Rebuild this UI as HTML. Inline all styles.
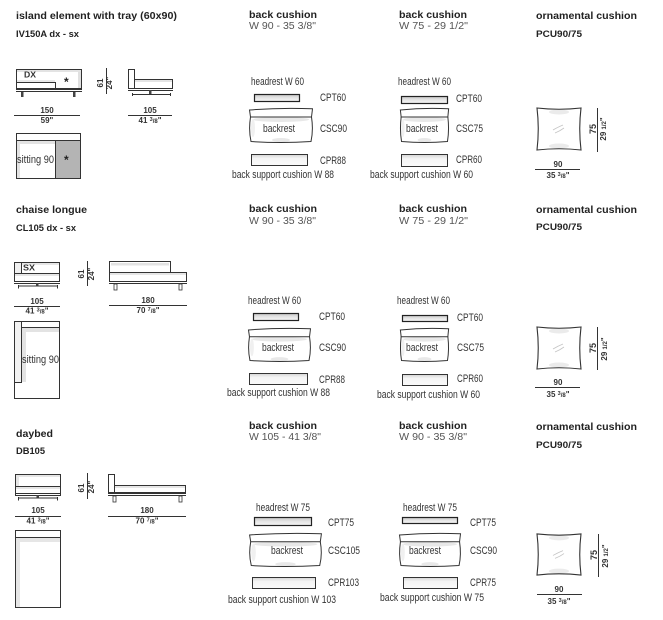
<!DOCTYPE html>
<html><head><meta charset="utf-8"><style>
html,body{margin:0;padding:0;background:#fff;}
svg{display:block;}
text{font-family:"Liberation Sans",Arial,sans-serif;}
.t{font-weight:bold;font-size:10px;fill:#222;}
.s{font-size:10px;fill:#555;}
.l{font-size:11px;fill:#333;}
.d{font-weight:bold;font-size:8px;fill:#333;}
.k{stroke:#333;fill:none;stroke-width:1;}
</style></head><body>
<svg width="663" height="620" viewBox="0 0 663 620" xmlns="http://www.w3.org/2000/svg">
<defs>
<linearGradient id="g1" x1="0" y1="0" x2="0" y2="1"><stop offset="0" stop-color="#c8c8c8"/><stop offset="0.5" stop-color="#e6e6e6"/><stop offset="1" stop-color="#f6f6f6"/></linearGradient>
<linearGradient id="g2" x1="0" y1="0" x2="0" y2="1"><stop offset="0" stop-color="#d4d4d4"/><stop offset="0.35" stop-color="#f4f4f4"/><stop offset="1" stop-color="#fafafa"/></linearGradient>
<symbol id="bk" viewBox="0 0 64 35" preserveAspectRatio="none" style="overflow:visible">
<path d="M1.5 9 Q-0.5 22 2 33.5 Q32 35.5 62 33.5 Q64.5 22 62.5 9 Z" fill="#fff"/>
<ellipse cx="32" cy="11.5" rx="28" ry="2.5" fill="#e8e8e8"/>
<ellipse cx="32" cy="32" rx="9" ry="2" fill="#e8e8e8"/>
<ellipse cx="4" cy="20" rx="2" ry="9" fill="#f0f0f0"/>
<path d="M1.5 9 Q-0.5 22 2 33.5 Q32 35.5 62 33.5 Q64.5 22 62.5 9" fill="none" stroke="#333" vector-effect="non-scaling-stroke"/>
<path d="M0.5 2 Q32 -0.5 63.5 0.8 L62.5 9 L1.5 9 Z" fill="#fff" stroke="#333" vector-effect="non-scaling-stroke"/>
</symbol>
<symbol id="pc" viewBox="0 0 46 44" preserveAspectRatio="none" style="overflow:visible">
<path d="M1 1 Q23 3.5 45 1 Q42.5 22 45 43 Q23 40.5 1 43 Q3.5 22 1 1 Z" fill="#fff"/>
<ellipse cx="23" cy="5" rx="10" ry="2.5" fill="#ebebeb"/>
<ellipse cx="23" cy="39" rx="10" ry="2.5" fill="#ebebeb"/>
<path d="M17 23 Q22 20 27 18 M19 26 Q24 24 28 21" fill="none" stroke="#c4c4c4" stroke-width="0.8"/>
<path d="M1 1 Q23 3.5 45 1 Q42.5 22 45 43 Q23 40.5 1 43 Q3.5 22 1 1 Z" fill="none" stroke="#333" stroke-width="1.1" vector-effect="non-scaling-stroke"/>
</symbol>
</defs>

<!-- ================= ROW 1 ================= -->
<text class="t" x="16" y="19" textLength="161" lengthAdjust="spacingAndGlyphs">island element with tray (60x90)</text>
<text class="t" x="16" y="37" textLength="63" lengthAdjust="spacingAndGlyphs" style="font-size:9px">IV150A dx - sx</text>

<!-- island front -->
<rect x="16.5" y="69.5" width="65" height="19" fill="#fff" stroke="#333"/>
<rect x="17" y="70" width="64" height="2" fill="#e3e3e3"/>
<rect x="78" y="72" width="3" height="16" fill="#e0e0e0"/>
<rect x="17" y="80" width="38" height="2" fill="#e8e8e8"/>
<path class="k" d="M16.5 82.5 H55.5 V88.5"/>
<path class="k" d="M16 89.5 H82 M16 91.5 H82"/>
<rect x="21" y="92" width="2.5" height="5" fill="#444"/>
<rect x="73" y="92" width="2.5" height="5" fill="#444"/>
<text x="24" y="77.5" style="font-weight:bold;font-size:8px;fill:#333" textLength="12" lengthAdjust="spacingAndGlyphs">DX</text>
<text x="64" y="86" style="font-weight:bold;font-size:12px;fill:#222">*</text>

<!-- height dim row1 -->
<path class="k" d="M106.5 68 V94"/>
<text class="d" transform="translate(103,83) rotate(-90)" text-anchor="middle">61</text>
<text class="d" transform="translate(112,83) rotate(-90)" text-anchor="middle">24"</text>

<!-- island side -->
<rect x="128.5" y="69.5" width="6" height="19" fill="#fff" stroke="#333"/>
<rect x="134.5" y="79.5" width="38" height="9" fill="#fff" stroke="#333"/>
<rect x="135" y="80" width="37" height="2" fill="#e3e3e3"/>
<path class="k" d="M128 88.5 H173 M128 90.5 H173"/>
<rect x="149" y="90" width="2.5" height="4" fill="#444"/>
<path class="k" d="M132 94.5 H171" stroke-width="1.3"/>
<path class="k" d="M132.5 93 V96 M170.5 93 V96"/>

<!-- dims row1 -->
<text class="d" x="47" y="113" text-anchor="middle">150</text>
<path class="k" d="M14 115.5 H80"/>
<text class="d" x="47" y="123" text-anchor="middle">59"</text>
<text class="d" x="150" y="113" text-anchor="middle">105</text>
<path class="k" d="M128 115.5 H172"/>
<text class="d" x="150" y="123" text-anchor="middle">41 <tspan style="font-size:5.5px" dy="-2">3</tspan><tspan style="font-size:6px" dy="2">/8</tspan>"</text>

<!-- island plan -->
<rect x="16.5" y="133.5" width="64" height="45" fill="#fff" stroke="#333"/>
<rect x="17" y="141" width="3" height="37" fill="#e3e3e3"/>
<rect x="17" y="141" width="38" height="3" fill="#e3e3e3"/>
<path class="k" d="M16.5 140.5 H80.5"/>
<rect x="55.5" y="140.5" width="25" height="38" fill="#b4b4b4" stroke="#333"/>
<text class="l" x="17" y="163" textLength="37" lengthAdjust="spacingAndGlyphs">sitting 90</text>
<text x="64" y="164" style="font-weight:bold;font-size:12px;fill:#222">*</text>

<!-- back cushion col1 row1 -->
<text class="t" x="249" y="18" textLength="68" lengthAdjust="spacingAndGlyphs">back cushion</text>
<text class="s" x="249" y="29" textLength="67" lengthAdjust="spacingAndGlyphs">W 90 - 35 3/8"</text>
<text class="l" x="251" y="85" textLength="53" lengthAdjust="spacingAndGlyphs">headrest W 60</text>
<rect x="254.5" y="94.5" width="45" height="7" fill="url(#g1)" stroke="#222" stroke-width="1.2"/>
<text class="l" x="320" y="101" textLength="26" lengthAdjust="spacingAndGlyphs">CPT60</text>
<use href="#bk" x="249" y="108" width="64" height="35"/>
<text class="l" x="263" y="132" textLength="32" lengthAdjust="spacingAndGlyphs">backrest</text>
<text class="l" x="320" y="132" textLength="27" lengthAdjust="spacingAndGlyphs">CSC90</text>
<rect x="251.5" y="154.5" width="56" height="11" fill="url(#g2)" stroke="#333"/>
<text class="l" x="320" y="164" textLength="26" lengthAdjust="spacingAndGlyphs">CPR88</text>
<text class="l" x="232" y="178" textLength="102" lengthAdjust="spacingAndGlyphs">back support cushion W 88</text>

<!-- back cushion col2 row1 -->
<text class="t" x="399" y="18" textLength="68" lengthAdjust="spacingAndGlyphs">back cushion</text>
<text class="s" x="399" y="29" textLength="69" lengthAdjust="spacingAndGlyphs">W 75 - 29 1/2"</text>
<text class="l" x="398" y="85" textLength="53" lengthAdjust="spacingAndGlyphs">headrest W 60</text>
<rect x="401.5" y="96.5" width="46" height="7" fill="url(#g1)" stroke="#222" stroke-width="1.2"/>
<text class="l" x="456" y="102" textLength="26" lengthAdjust="spacingAndGlyphs">CPT60</text>
<use href="#bk" x="400" y="108" width="49" height="35"/>
<text class="l" x="406" y="132" textLength="32" lengthAdjust="spacingAndGlyphs">backrest</text>
<text class="l" x="456" y="132" textLength="27" lengthAdjust="spacingAndGlyphs">CSC75</text>
<rect x="401.5" y="154.5" width="46" height="12" fill="url(#g2)" stroke="#333"/>
<text class="l" x="456" y="163" textLength="26" lengthAdjust="spacingAndGlyphs">CPR60</text>
<text class="l" x="370" y="178" textLength="103" lengthAdjust="spacingAndGlyphs">back support cushion W 60</text>

<!-- ornamental row1 -->
<text class="t" x="536" y="19" textLength="101" lengthAdjust="spacingAndGlyphs">ornamental cushion</text>
<text class="t" x="536" y="37" textLength="46" lengthAdjust="spacingAndGlyphs" style="font-size:9px">PCU90/75</text>
<use href="#pc" x="536" y="107" width="46" height="44"/>
<path class="k" d="M597.5 108 V152"/>
<text class="d" transform="translate(596,129) rotate(-90)" text-anchor="middle" style="font-size:9px">75</text>
<text class="d" transform="translate(606,129) rotate(-90)" text-anchor="middle">29 <tspan style="font-size:6px">1/2</tspan>"</text>
<text class="d" x="558" y="167" text-anchor="middle">90</text>
<path class="k" d="M535 169.5 H580"/>
<text class="d" x="558" y="178" text-anchor="middle">35 <tspan style="font-size:5.5px" dy="-2">3</tspan><tspan style="font-size:6px" dy="2">/8</tspan>"</text>

<!-- ================= ROW 2 ================= -->
<text class="t" x="16" y="213" textLength="71" lengthAdjust="spacingAndGlyphs">chaise longue</text>
<text class="t" x="16" y="231" textLength="60" lengthAdjust="spacingAndGlyphs" style="font-size:9px">CL105 dx - sx</text>

<!-- chaise front -->
<rect x="14.5" y="262.5" width="45" height="19" fill="#fff" stroke="#333"/>
<rect x="22" y="263" width="37" height="2" fill="#e6e6e6"/>
<rect x="15" y="274" width="44" height="2" fill="#e6e6e6"/>
<rect x="14.5" y="262.5" width="7" height="11" fill="#f0f0f0" stroke="#333"/>
<path class="k" d="M14.5 273.5 H59.5 M14 281.5 H60 M14 283.5 H60"/>
<rect x="36" y="283" width="2.5" height="3" fill="#444"/>
<path class="k" d="M18 286 H58" stroke-width="1.3"/>
<path class="k" d="M18.5 285 V288.5 M57.5 285 V288.5"/>
<text x="23" y="270.5" style="font-weight:bold;font-size:8px;fill:#333" textLength="12" lengthAdjust="spacingAndGlyphs">SX</text>

<path class="k" d="M87.5 261 V286"/>
<text class="d" transform="translate(84,274) rotate(-90)" text-anchor="middle">61</text>
<text class="d" transform="translate(94,274) rotate(-90)" text-anchor="middle">24"</text>

<!-- chaise side -->
<path d="M109.5 261.5 H170.5 V272.5 H109.5 Z" fill="#fff" stroke="#333"/>
<rect x="111" y="263" width="58" height="2.5" fill="#e3e3e3"/>
<rect x="109.5" y="272.5" width="77" height="9" fill="#fff" stroke="#333"/>
<rect x="110" y="273" width="76" height="2" fill="#e6e6e6"/>
<path class="k" d="M109 283.5 H187"/>
<rect x="114" y="284" width="3" height="6" fill="#fff" stroke="#333" stroke-width="0.8"/>
<rect x="179" y="284" width="3" height="6" fill="#fff" stroke="#333" stroke-width="0.8"/>

<text class="d" x="37" y="304" text-anchor="middle">105</text>
<path class="k" d="M14 306.5 H60"/>
<text class="d" x="37" y="313.5" text-anchor="middle">41 <tspan style="font-size:5.5px" dy="-2">3</tspan><tspan style="font-size:6px" dy="2">/8</tspan>"</text>
<text class="d" x="148" y="303" text-anchor="middle">180</text>
<path class="k" d="M109 305.5 H187"/>
<text class="d" x="148" y="313" text-anchor="middle">70 <tspan style="font-size:5.5px" dy="-2">7</tspan><tspan style="font-size:6px" dy="2">/8</tspan>"</text>

<!-- chaise plan -->
<rect x="14.5" y="321.5" width="45" height="77" fill="#fff" stroke="#333"/>
<rect x="22" y="328" width="4" height="54" fill="#e3e3e3"/>
<rect x="22" y="328" width="37" height="4" fill="#e3e3e3"/>
<rect x="14.5" y="321.5" width="7" height="61" fill="#f2f2f2" stroke="#333"/>
<path class="k" d="M21.5 327.5 H59.5"/>
<text class="l" x="22" y="363" textLength="37" lengthAdjust="spacingAndGlyphs">sitting 90</text>

<!-- back cushion col1 row2 -->
<text class="t" x="249" y="212" textLength="68" lengthAdjust="spacingAndGlyphs">back cushion</text>
<text class="s" x="249" y="224" textLength="67" lengthAdjust="spacingAndGlyphs">W 90 - 35 3/8"</text>
<text class="l" x="248" y="304" textLength="53" lengthAdjust="spacingAndGlyphs">headrest W 60</text>
<rect x="253.5" y="313.5" width="45" height="7" fill="url(#g1)" stroke="#222" stroke-width="1.2"/>
<text class="l" x="319" y="320" textLength="26" lengthAdjust="spacingAndGlyphs">CPT60</text>
<use href="#bk" x="248" y="328" width="63" height="34"/>
<text class="l" x="262" y="351" textLength="32" lengthAdjust="spacingAndGlyphs">backrest</text>
<text class="l" x="319" y="351" textLength="27" lengthAdjust="spacingAndGlyphs">CSC90</text>
<rect x="249.5" y="373.5" width="58" height="11" fill="url(#g2)" stroke="#333"/>
<text class="l" x="319" y="383" textLength="26" lengthAdjust="spacingAndGlyphs">CPR88</text>
<text class="l" x="227" y="396" textLength="103" lengthAdjust="spacingAndGlyphs">back support cushion W 88</text>

<!-- back cushion col2 row2 -->
<text class="t" x="399" y="212" textLength="68" lengthAdjust="spacingAndGlyphs">back cushion</text>
<text class="s" x="399" y="224" textLength="69" lengthAdjust="spacingAndGlyphs">W 75 - 29 1/2"</text>
<text class="l" x="397" y="304" textLength="53" lengthAdjust="spacingAndGlyphs">headrest W 60</text>
<rect x="402.5" y="315.5" width="45" height="6" fill="url(#g1)" stroke="#222" stroke-width="1.2"/>
<text class="l" x="457" y="321" textLength="26" lengthAdjust="spacingAndGlyphs">CPT60</text>
<use href="#bk" x="400" y="328" width="49" height="34"/>
<text class="l" x="406" y="351" textLength="32" lengthAdjust="spacingAndGlyphs">backrest</text>
<text class="l" x="457" y="351" textLength="27" lengthAdjust="spacingAndGlyphs">CSC75</text>
<rect x="402.5" y="374.5" width="45" height="11" fill="url(#g2)" stroke="#333"/>
<text class="l" x="457" y="382" textLength="26" lengthAdjust="spacingAndGlyphs">CPR60</text>
<text class="l" x="377" y="398" textLength="103" lengthAdjust="spacingAndGlyphs">back support cushion W 60</text>

<!-- ornamental row2 -->
<text class="t" x="536" y="213" textLength="101" lengthAdjust="spacingAndGlyphs">ornamental cushion</text>
<text class="t" x="536" y="230" textLength="46" lengthAdjust="spacingAndGlyphs" style="font-size:9px">PCU90/75</text>
<use href="#pc" x="536" y="326" width="46" height="44"/>
<path class="k" d="M597.5 327 V370"/>
<text class="d" transform="translate(596,348) rotate(-90)" text-anchor="middle" style="font-size:9px">75</text>
<text class="d" transform="translate(607,349) rotate(-90)" text-anchor="middle">29 <tspan style="font-size:6px">1/2</tspan>"</text>
<text class="d" x="558" y="385" text-anchor="middle">90</text>
<path class="k" d="M535 387.5 H580"/>
<text class="d" x="558" y="397" text-anchor="middle">35 <tspan style="font-size:5.5px" dy="-2">3</tspan><tspan style="font-size:6px" dy="2">/8</tspan>"</text>

<!-- ================= ROW 3 ================= -->
<text class="t" x="16" y="437" textLength="37" lengthAdjust="spacingAndGlyphs">daybed</text>
<text class="t" x="16" y="454" textLength="29" lengthAdjust="spacingAndGlyphs" style="font-size:9px">DB105</text>

<!-- daybed front -->
<rect x="15.5" y="474.5" width="45" height="21" fill="#fff" stroke="#333"/>
<rect x="16" y="475" width="44" height="2" fill="#e6e6e6"/>
<rect x="16" y="475" width="3" height="11" fill="#e6e6e6"/>
<rect x="16" y="487" width="44" height="2" fill="#e6e6e6"/>
<path class="k" d="M15.5 486.5 H60.5 M15.5 493.5 H60.5"/>
<rect x="36.5" y="495" width="2.5" height="3" fill="#444"/>
<path class="k" d="M18 498 H58" stroke-width="1.3"/>
<path class="k" d="M18.5 497 V500.5 M57.5 497 V500.5"/>

<path class="k" d="M87.5 473 V499"/>
<text class="d" transform="translate(84,488) rotate(-90)" text-anchor="middle">61</text>
<text class="d" transform="translate(94,487) rotate(-90)" text-anchor="middle">24"</text>

<!-- daybed side -->
<rect x="108.5" y="474.5" width="6" height="18" fill="#fff" stroke="#333"/>
<rect x="114.5" y="485.5" width="71" height="7" fill="#fff" stroke="#333"/>
<rect x="115" y="486" width="70" height="2" fill="#e6e6e6"/>
<path class="k" d="M108 493.5 H186 M108 495.5 H186"/>
<rect x="113" y="496" width="3" height="6" fill="#fff" stroke="#333" stroke-width="0.8"/>
<rect x="179" y="496" width="3" height="6" fill="#fff" stroke="#333" stroke-width="0.8"/>

<text class="d" x="38" y="513" text-anchor="middle">105</text>
<path class="k" d="M15 516.5 H61"/>
<text class="d" x="38" y="523.5" text-anchor="middle">41 <tspan style="font-size:5.5px" dy="-2">3</tspan><tspan style="font-size:6px" dy="2">/8</tspan>"</text>
<text class="d" x="147" y="513" text-anchor="middle">180</text>
<path class="k" d="M108 516.5 H186"/>
<text class="d" x="147" y="523.5" text-anchor="middle">70 <tspan style="font-size:5.5px" dy="-2">7</tspan><tspan style="font-size:6px" dy="2">/8</tspan>"</text>

<!-- daybed plan -->
<rect x="15.5" y="530.5" width="45" height="77" fill="#fff" stroke="#333"/>
<rect x="16" y="538" width="4" height="69" fill="#e6e6e6"/>
<rect x="16" y="538" width="44" height="4" fill="#e6e6e6"/>
<path class="k" d="M15.5 537.5 H60.5"/>

<!-- back cushion col1 row3 -->
<text class="t" x="249" y="429" textLength="68" lengthAdjust="spacingAndGlyphs">back cushion</text>
<text class="s" x="249" y="440" textLength="72" lengthAdjust="spacingAndGlyphs">W 105 - 41 3/8"</text>
<text class="l" x="256" y="511" textLength="54" lengthAdjust="spacingAndGlyphs">headrest W 75</text>
<rect x="254.5" y="517.5" width="57" height="8" fill="url(#g1)" stroke="#222" stroke-width="1.2"/>
<text class="l" x="328" y="526" textLength="26" lengthAdjust="spacingAndGlyphs">CPT75</text>
<use href="#bk" x="249" y="533" width="73" height="34"/>
<text class="l" x="271" y="554" textLength="32" lengthAdjust="spacingAndGlyphs">backrest</text>
<text class="l" x="328" y="554" textLength="32" lengthAdjust="spacingAndGlyphs">CSC105</text>
<rect x="252.5" y="577.5" width="63" height="11" fill="url(#g2)" stroke="#333"/>
<text class="l" x="328" y="586" textLength="31" lengthAdjust="spacingAndGlyphs">CPR103</text>
<text class="l" x="228" y="603" textLength="108" lengthAdjust="spacingAndGlyphs">back support cushion W 103</text>

<!-- back cushion col2 row3 -->
<text class="t" x="399" y="429" textLength="68" lengthAdjust="spacingAndGlyphs">back cushion</text>
<text class="s" x="399" y="440" textLength="68" lengthAdjust="spacingAndGlyphs">W 90 - 35 3/8"</text>
<text class="l" x="403" y="511" textLength="54" lengthAdjust="spacingAndGlyphs">headrest W 75</text>
<rect x="402.5" y="517.5" width="55" height="6" fill="url(#g1)" stroke="#222" stroke-width="1.2"/>
<text class="l" x="470" y="526" textLength="26" lengthAdjust="spacingAndGlyphs">CPT75</text>
<use href="#bk" x="399" y="533" width="62" height="34"/>
<text class="l" x="409" y="554" textLength="32" lengthAdjust="spacingAndGlyphs">backrest</text>
<text class="l" x="470" y="554" textLength="27" lengthAdjust="spacingAndGlyphs">CSC90</text>
<rect x="403.5" y="577.5" width="54" height="11" fill="url(#g2)" stroke="#333"/>
<text class="l" x="470" y="586" textLength="26" lengthAdjust="spacingAndGlyphs">CPR75</text>
<text class="l" x="380" y="601" textLength="104" lengthAdjust="spacingAndGlyphs">back support cushion W 75</text>

<!-- ornamental row3 -->
<text class="t" x="536" y="430" textLength="101" lengthAdjust="spacingAndGlyphs">ornamental cushion</text>
<text class="t" x="536" y="448" textLength="46" lengthAdjust="spacingAndGlyphs" style="font-size:9px">PCU90/75</text>
<use href="#pc" x="536" y="533" width="46" height="43"/>
<path class="k" d="M598.5 534 V577"/>
<text class="d" transform="translate(597,555) rotate(-90)" text-anchor="middle" style="font-size:9px">75</text>
<text class="d" transform="translate(608,556) rotate(-90)" text-anchor="middle">29 <tspan style="font-size:6px">1/2</tspan>"</text>
<text class="d" x="559" y="592" text-anchor="middle">90</text>
<path class="k" d="M537 594.5 H582"/>
<text class="d" x="559" y="604" text-anchor="middle">35 <tspan style="font-size:5.5px" dy="-2">3</tspan><tspan style="font-size:6px" dy="2">/8</tspan>"</text>
</svg>
</body></html>
